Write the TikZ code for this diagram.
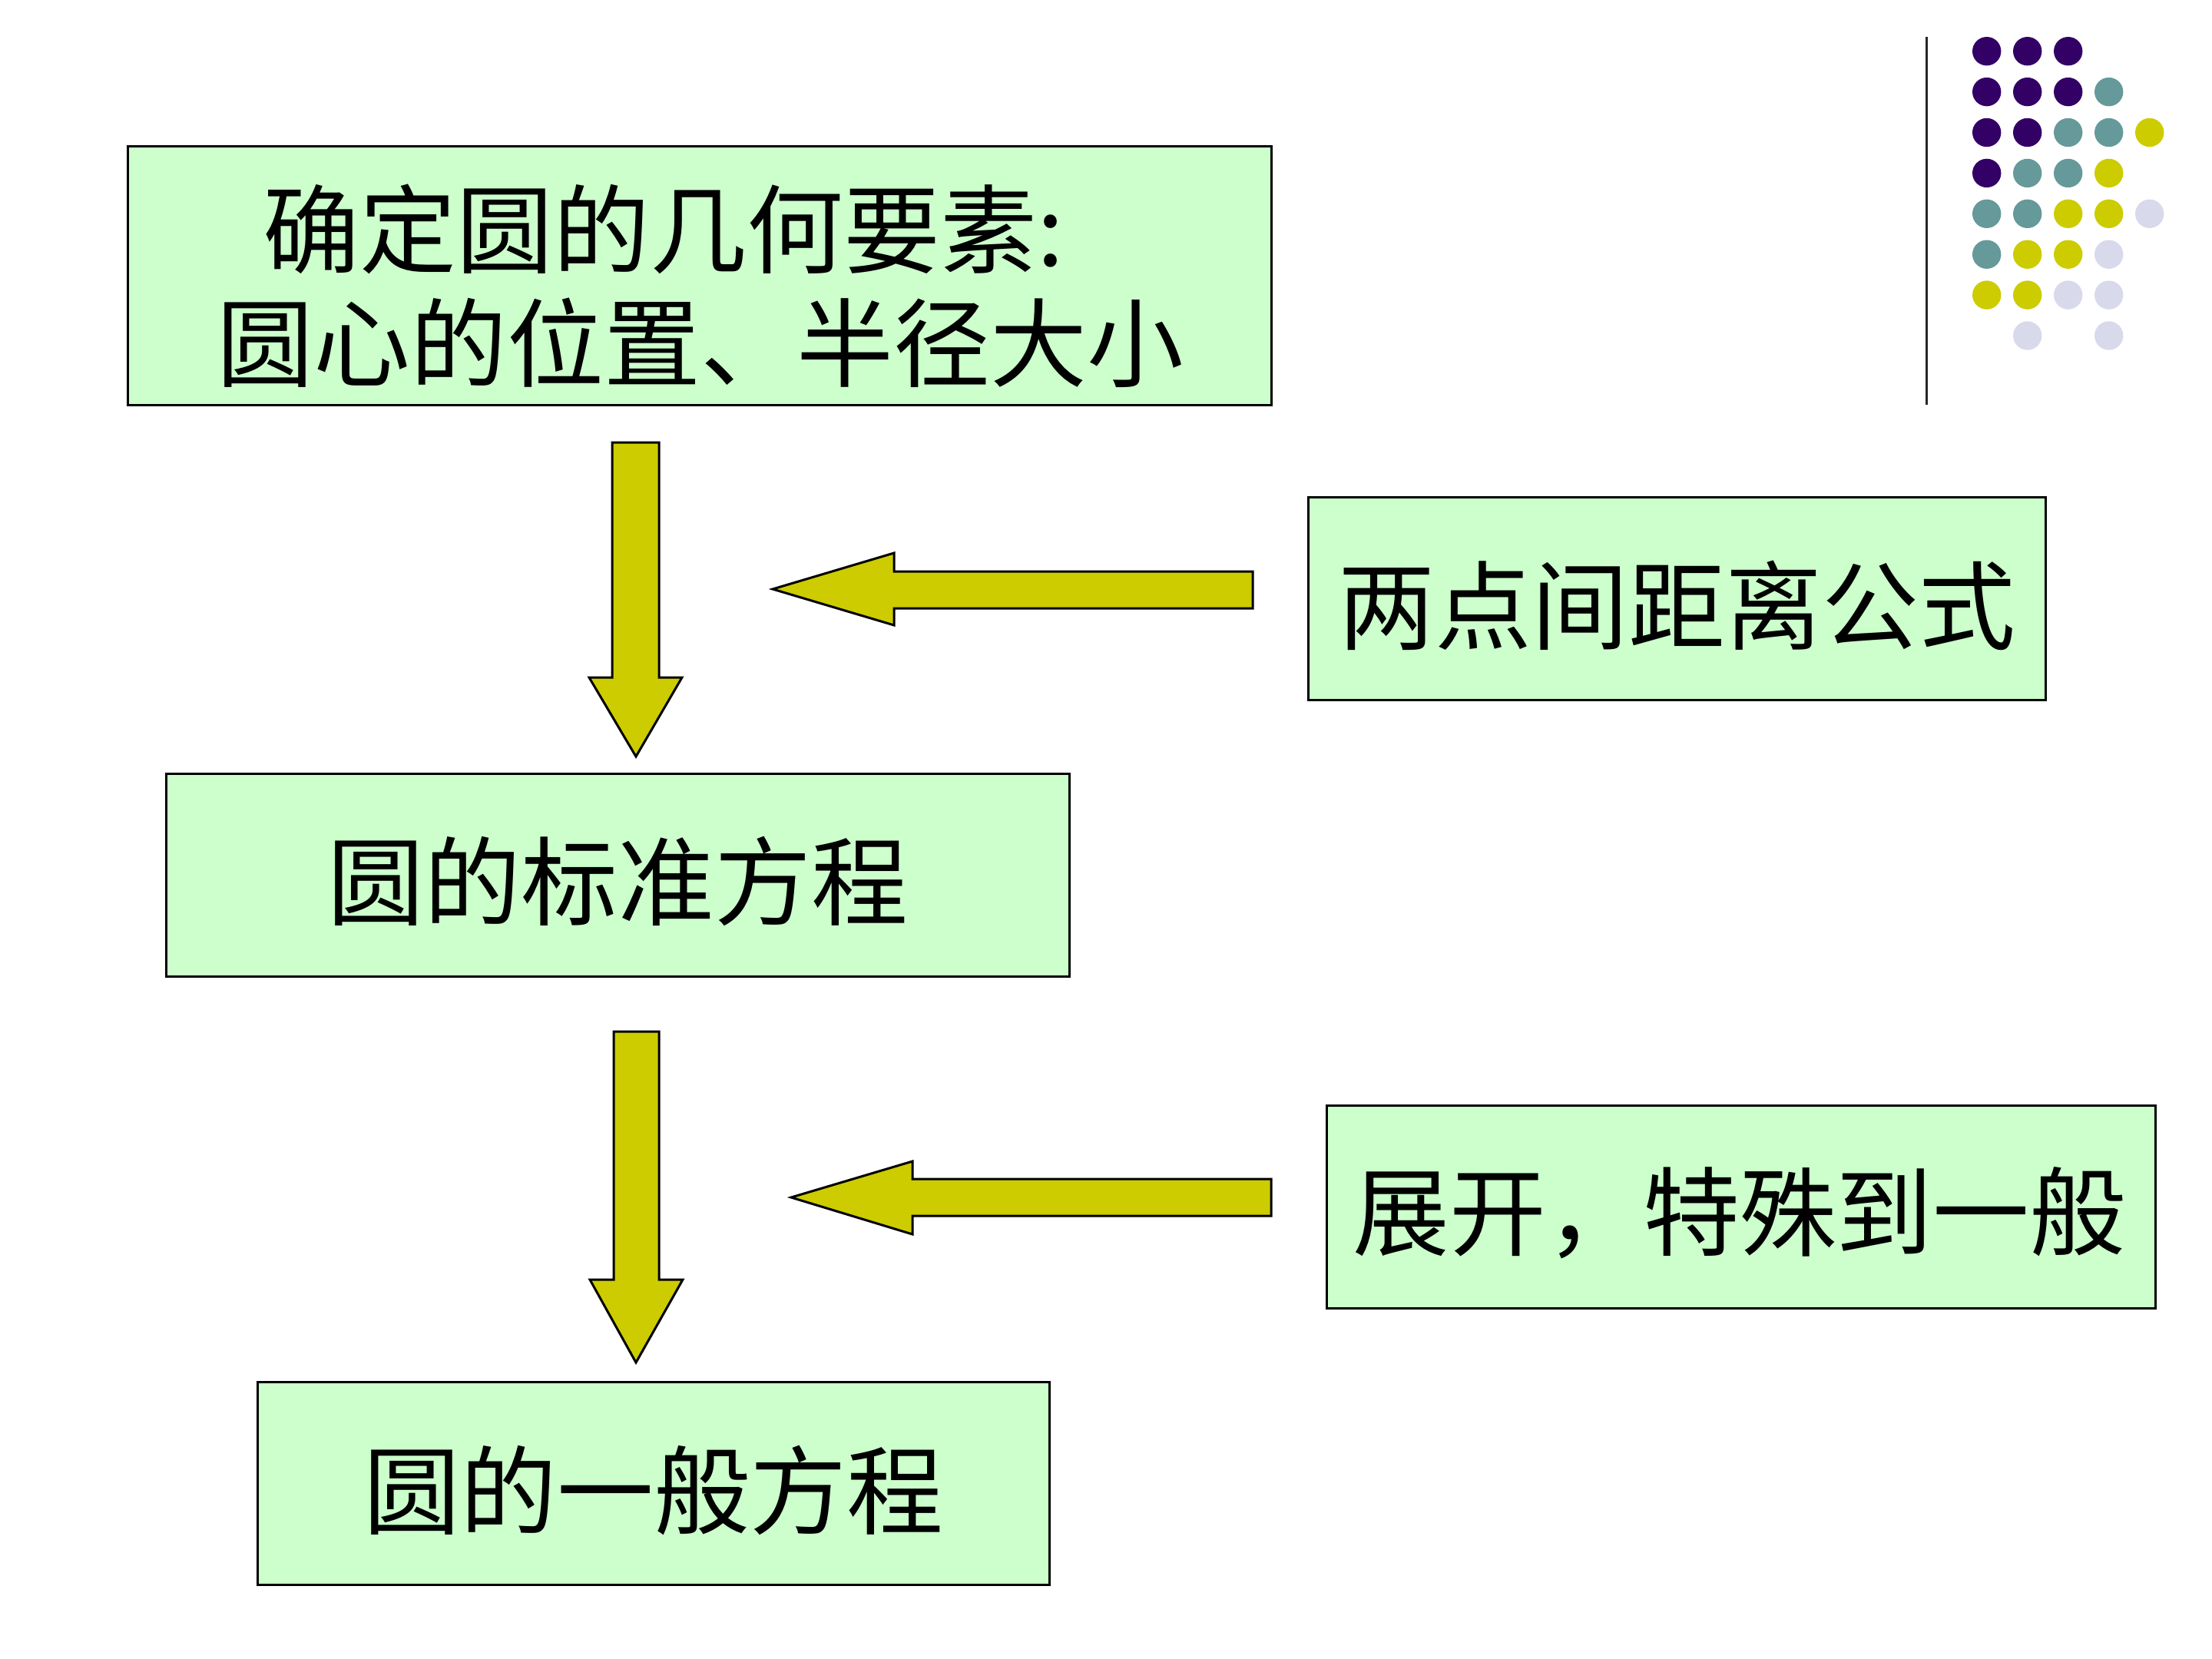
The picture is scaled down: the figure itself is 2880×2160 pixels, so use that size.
\documentclass[tikz,border=0pt]{standalone}
\usepackage{fontspec}
\newfontfamily\cjk{Noto Sans CJK SC}
\definecolor{boxgreen}{HTML}{CCFFCC}
\definecolor{arrowyellow}{HTML}{CCCC00}
\definecolor{dpurple}{HTML}{330066}
\definecolor{dteal}{HTML}{669999}
\definecolor{dyellow}{HTML}{CCCC00}
\definecolor{dlav}{HTML}{D9D9EC}
\tikzset{
  box/.style={draw=black, fill=boxgreen, line width=0.03cm, inner sep=0pt},
  txt/.style={inner sep=0pt, font=\cjk\fontsize{35.8}{43}\selectfont},
  blockarrow/.style={draw=black, fill=arrowyellow, line width=0.03cm, line join=miter},
  dot/.style={radius=18.7}
}
\begin{document}
\begin{tikzpicture}[x=0.01cm,y=-0.01cm]
\useasboundingbox (0,0) rectangle (2880,2160);
% boxes
\node[box, minimum width=14.88cm, minimum height=3.36cm] (b1) at (911,359) {};
\node[txt] (b1l1) at (864,298) {确定圆的几何要素:};
\node[txt] (b1l2) at (912,446) {圆心的位置、半径大小};
\node[box, minimum width=9.59cm, minimum height=2.63cm] (b2) at (2183.5,779.5) {};
\node[txt] (t2) at ([yshift=-0.09cm]b2.center) {两点间距离公式};
\node[box, minimum width=11.75cm, minimum height=2.63cm] (b3) at (804.5,1139.5) {};
\node[txt] (t3) at ([yshift=-0.08cm]b3.center) {圆的标准方程};
\node[box, minimum width=10.78cm, minimum height=2.63cm] (b4) at (2267,1571.5) {};
\node[txt] (t4) at ([xshift=-0.02cm,yshift=-0.08cm]b4.center) {展开，特殊到一般};
\node[box, minimum width=10.30cm, minimum height=2.63cm] (b5) at (851,1931.5) {};
\node[txt] (t5) at ([yshift=-0.09cm]b5.center) {圆的一般方程};
% block arrows
\draw[blockarrow] (797,576) -- (858,576) -- (858,882) -- (888,882) -- (828,985) -- (767,882) -- (797,882) -- cycle;
\draw[blockarrow] (799,1343) -- (858,1343) -- (858,1666) -- (889,1666) -- (828,1774) -- (768,1666) -- (799,1666) -- cycle;
\draw[blockarrow] (1631,744) -- (1164,744) -- (1164,720) -- (1006,767) -- (1164,814) -- (1164,792) -- (1631,792) -- cycle;
\draw[blockarrow] (1655,1535) -- (1188,1535) -- (1188,1512) -- (1030,1559) -- (1188,1607) -- (1188,1583) -- (1655,1583) -- cycle;
% decoration: vertical line and dots
\draw[line width=0.03cm, black!85] (2508,48) -- (2508,527);
\foreach \c/\r/\col in {0/0/dpurple,1/0/dpurple,2/0/dpurple,
  0/1/dpurple,1/1/dpurple,2/1/dpurple,3/1/dteal,
  0/2/dpurple,1/2/dpurple,2/2/dteal,3/2/dteal,4/2/dyellow,
  0/3/dpurple,1/3/dteal,2/3/dteal,3/3/dyellow,
  0/4/dteal,1/4/dteal,2/4/dyellow,3/4/dyellow,4/4/dlav,
  0/5/dteal,1/5/dyellow,2/5/dyellow,3/5/dlav,
  0/6/dyellow,1/6/dyellow,2/6/dlav,3/6/dlav,
  1/7/dlav,3/7/dlav}
  \fill[\col] ({2586.7+53*\c},{66.7+52.9*\r}) circle[dot];
\end{tikzpicture}
\end{document}
